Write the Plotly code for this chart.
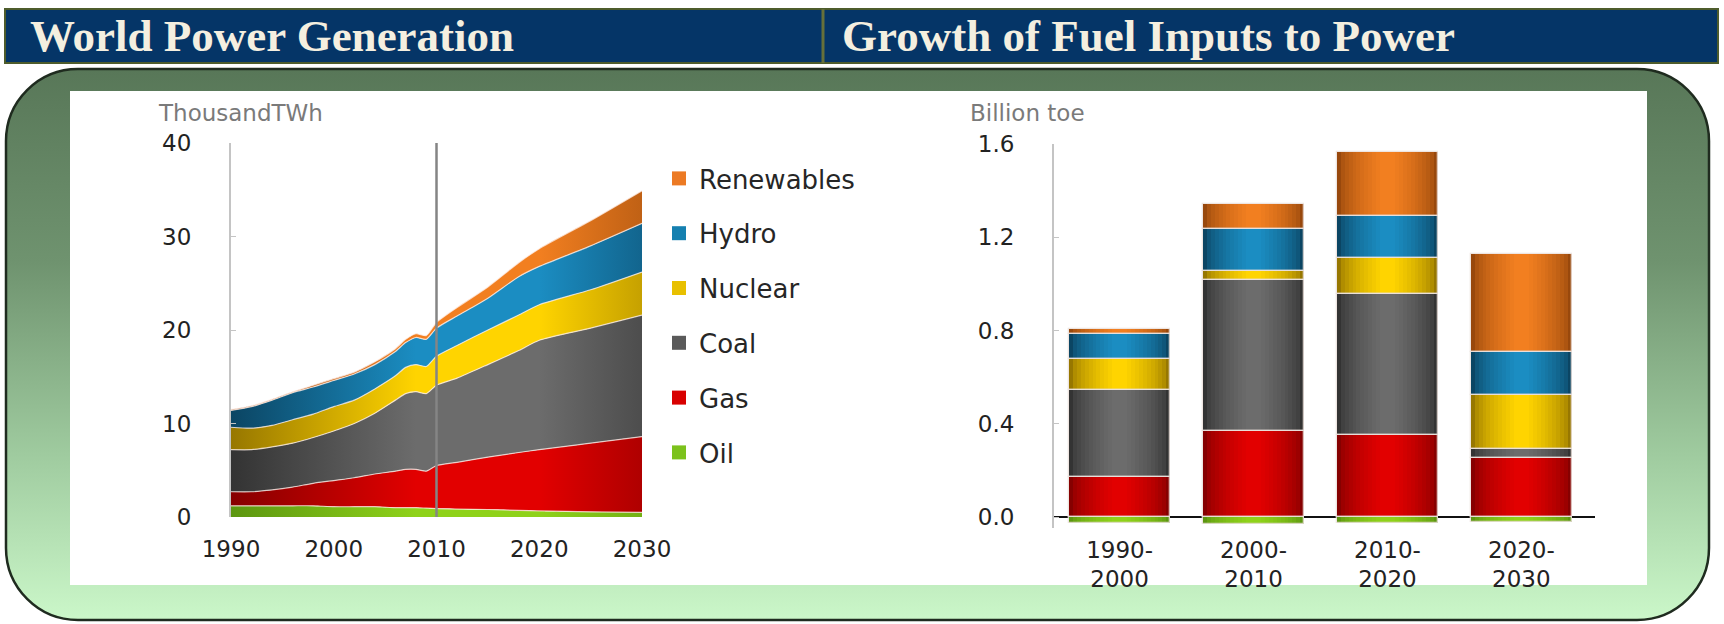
import base64
import plotly.graph_objects as go

# ---------------- DATA ----------------
years = [1990, 1992, 1994, 1996, 1998, 2000, 2002, 2004, 2006, 2007, 2008, 2009,
         2010, 2012, 2015, 2018, 2020, 2025, 2030]
oil = [1.2, 1.2, 1.2, 1.2, 1.2, 1.1, 1.1, 1.1, 1.0, 1.0, 1.0, 0.95,
       0.9, 0.85, 0.8, 0.7, 0.65, 0.55, 0.5]
gas = [1.5, 1.5, 1.7, 2.0, 2.4, 2.8, 3.1, 3.5, 3.9, 4.1, 4.1, 3.95,
       4.6, 5.0, 5.6, 6.2, 6.55, 7.35, 8.1]
coal = [4.5, 4.5, 4.6, 4.7, 4.9, 5.3, 5.8, 6.5, 7.6, 8.1, 8.3, 8.3,
        8.6, 9.0, 9.9, 10.9, 11.7, 12.3, 13.0]
nuclear = [2.4, 2.3, 2.3, 2.5, 2.5, 2.6, 2.5, 2.6, 2.6, 2.8, 2.9, 2.9,
           3.1, 3.5, 3.7, 3.8, 3.8, 4.1, 4.6]
hydro = [1.8, 2.3, 2.7, 2.9, 2.9, 2.8, 2.8, 2.6, 2.6, 2.65, 2.9, 2.9,
         3.0, 3.15, 3.4, 4.1, 4.1, 4.7, 5.2]
renewables = [0.1, 0.1, 0.1, 0.1, 0.2, 0.2, 0.2, 0.3, 0.3, 0.35, 0.4, 0.4,
              0.6, 0.9, 1.2, 1.5, 1.9, 2.7, 3.5]
projection_start = 2010
left_yticks = [0, 10, 20, 30, 40]
left_xticks = [1990, 2000, 2010, 2020, 2030]

periods = ["1990-<br>2000", "2000-<br>2010", "2010-<br>2020", "2020-<br>2030"]
oil_g = [-0.025, -0.03, -0.025, -0.02]
gas_g = [0.17, 0.37, 0.35, 0.253]
coal_g = [0.375, 0.646, 0.607, 0.04]
nuclear_g = [0.133, 0.041, 0.155, 0.229]
hydro_g = [0.107, 0.18, 0.179, 0.186]
renewables_g = [0.021, 0.104, 0.273, 0.419]
right_yticks = [0.0, 0.4, 0.8, 1.2, 1.6]

series_names = ["Oil", "Gas", "Coal", "Nuclear", "Hydro", "Renewables"]

# ---------------- STYLE ----------------
W, H = 1724, 624
def px(x):
    return x / W
def py(y):
    return 1 - y / H

bright = {"Oil": "#8fd21a", "Gas": "#e20000", "Coal": "#6c6c6c",
          "Nuclear": "#ffd400", "Hydro": "#1b8dc2", "Renewables": "#f27f20"}
dark = {"Oil": "#5c9610", "Gas": "#860000", "Coal": "#333333",
        "Nuclear": "#977700", "Hydro": "#0b4563", "Renewables": "#98480c"}
legend_col = {"Oil": "#7cc21c", "Gas": "#d80000", "Coal": "#5a5a5a",
              "Nuclear": "#e8c000", "Hydro": "#1580b0", "Renewables": "#ec7a24"}

def hex2rgb(h):
    h = h.lstrip("#")
    return tuple(int(h[i:i + 2], 16) for i in (0, 2, 4))

def mix(c1, c2, t):
    a, b = hex2rgb(c1), hex2rgb(c2)
    return "rgb(%d,%d,%d)" % tuple(round(a[i] + (b[i] - a[i]) * t) for i in range(3))

TICKFONT = dict(family="DejaVu Sans", size=23, color="#222222")

fig = go.Figure()

# ---------------- LEFT: stacked area ----------------
left_data = {"Oil": oil, "Gas": gas, "Coal": coal, "Nuclear": nuclear,
             "Hydro": hydro, "Renewables": renewables}
for name in series_names:
    d, b = dark[name], bright[name]
    fig.add_trace(go.Scatter(
        x=years, y=left_data[name], stackgroup="one", mode="lines",
        line=dict(color="rgba(255,240,235,0.75)", width=1.2, shape="spline", smoothing=0.6),
        fillcolor=b,
        fillgradient=dict(type="horizontal",
                          colorscale=[[0, d], [0.45, b], [0.75, b], [1, mix(d, b, 0.45)]]),
        name=name, showlegend=False, hoverinfo="x+y+name",
        xaxis="x", yaxis="y"))

# legend entries (top to bottom: Renewables ... Oil)
for name in reversed(series_names):
    fig.add_trace(go.Scatter(
        x=[None], y=[None], mode="markers", name=name,
        marker=dict(symbol="square", size=14, color=legend_col[name]),
        legendgroup=name, showlegend=True, xaxis="x", yaxis="y"))

# ---------------- RIGHT: stacked bars with cylinder shading ----------------
right_data = {"Oil": oil_g, "Gas": gas_g, "Coal": coal_g, "Nuclear": nuclear_g,
              "Hydro": hydro_g, "Renewables": renewables_g}
bar_w = 0.755
n_layers = 12
layers = []
for k in range(n_layers):
    f = 1.0 - k * (0.85 / (n_layers - 1))
    t = (k / (n_layers - 1)) ** 0.6
    layers.append((f, t))

cum = [0.0] * len(periods)
bases = {}
for name in series_names:
    vals = right_data[name]
    if name == "Oil":
        bases[name] = [0.0] * len(periods)
    else:
        bases[name] = list(cum)
        cum = [c + v for c, v in zip(cum, vals)]

for name in series_names:
    for f, t in layers:
        fig.add_trace(go.Bar(
            x=periods, y=right_data[name], base=bases[name],
            width=[bar_w * f] * len(periods),
            marker=dict(color=mix(dark[name], bright[name], t), line=dict(width=0)),
            showlegend=False, hoverinfo="skip", xaxis="x2", yaxis="y2"))
# outline layer (thin light separators)
for name in series_names:
    fig.add_trace(go.Bar(
        x=periods, y=right_data[name], base=bases[name],
        width=[bar_w] * len(periods), name=name,
        marker=dict(color="rgba(0,0,0,0)", line=dict(color="rgba(235,225,220,0.85)", width=1.3)),
        showlegend=False, xaxis="x2", yaxis="y2"))

# ---------------- LAYOUT ----------------
svg = ("<svg xmlns='http://www.w3.org/2000/svg' width='1724' height='624' viewBox='0 0 1724 624' "
       "preserveAspectRatio='none'>"
       "<defs><linearGradient id='g' x1='0' y1='0' x2='0' y2='1'>"
       "<stop offset='0' stop-color='#587758'/><stop offset='0.35' stop-color='#6f936f'/>"
       "<stop offset='0.7' stop-color='#9fcb9f'/><stop offset='1' stop-color='#cbf7c9'/>"
       "</linearGradient></defs>"
       "<rect x='6' y='69' width='1703' height='551' rx='72' ry='72' fill='url(#g)' "
       "stroke='#1f2b1f' stroke-width='2.5'/></svg>")
svg_uri = "data:image/svg+xml;base64," + base64.b64encode(svg.encode()).decode()

shapes = [
    dict(type="rect", xref="paper", yref="paper", x0=px(5), x1=px(1718), y0=py(63), y1=py(9),
         fillcolor="#053567", line=dict(color="#4e5c2c", width=2), layer="below"),
    dict(type="line", xref="paper", yref="paper", x0=px(823), x1=px(823), y0=py(63), y1=py(9),
         line=dict(color="#66703a", width=3), layer="below"),
    dict(type="rect", xref="paper", yref="paper", x0=px(70), x1=px(1647), y0=py(585), y1=py(91),
         fillcolor="white", line=dict(width=0), layer="below"),
    dict(type="line", xref="x", yref="y", x0=projection_start, x1=projection_start,
         y0=left_yticks[0], y1=left_yticks[-1], line=dict(color="#858585", width=2.5)),
]

TITLEFONT = dict(family="Liberation Serif", size=45, color="#f4efe0", weight="bold")
annotations = [
    dict(text="World Power Generation", xref="paper", yref="paper", x=px(28), y=py(36),
         xanchor="left", yanchor="middle", showarrow=False, font=TITLEFONT),
    dict(text="Growth of Fuel Inputs to Power", xref="paper", yref="paper", x=px(840), y=py(36),
         xanchor="left", yanchor="middle", showarrow=False, font=TITLEFONT),
    dict(text="ThousandTWh", xref="paper", yref="paper", x=px(156), y=py(113),
         xanchor="left", yanchor="middle", showarrow=False,
         font=dict(family="DejaVu Sans", size=23, color="#7a7a7a")),
    dict(text="Billion toe", xref="paper", yref="paper", x=px(968), y=py(113),
         xanchor="left", yanchor="middle", showarrow=False,
         font=dict(family="DejaVu Sans", size=23, color="#7a7a7a")),
]

fig.update_layout(
    width=W, height=H, autosize=False,
    margin=dict(l=0, r=0, t=0, b=0, pad=0, autoexpand=False),
    paper_bgcolor="white", plot_bgcolor="rgba(0,0,0,0)",
    barmode="overlay", bargap=0,
    showlegend=True,
    legend=dict(x=px(659), y=py(155), xanchor="left", yanchor="top",
                font=dict(family="DejaVu Sans", size=26, color="#262626"),
                bgcolor="rgba(0,0,0,0)", tracegroupgap=18, itemwidth=30,
                traceorder="grouped"),
    images=[dict(source=svg_uri, xref="paper", yref="paper", x=0, y=1, sizex=1, sizey=1,
                 xanchor="left", yanchor="top", sizing="stretch", layer="below")],
    shapes=shapes,
    annotations=annotations,
    xaxis=dict(domain=[px(231), px(642)], range=[1990, 2030], tickvals=left_xticks,
               showgrid=False, zeroline=False, showline=False, ticks="",
               tickfont=TICKFONT, ticklabelstandoff=16, anchor="y", automargin=False),
    yaxis=dict(domain=[py(517), py(143)], range=[0, 40], tickvals=left_yticks,
               showgrid=False, zeroline=False, showline=True, linecolor="#c4c4c4", linewidth=2,
               ticks="inside", ticklen=5, tickcolor="#c4c4c4",
               tickfont=TICKFONT, ticklabelstandoff=33, anchor="x", automargin=False),
    xaxis2=dict(domain=[px(1054), px(1595)], range=[-0.49, 3.55], type="category",
                showgrid=False, zeroline=False, showline=False, ticks="",
                tickfont=TICKFONT, ticklabelstandoff=6, anchor="y2", automargin=False),
    yaxis2=dict(domain=[py(527.5), py(144)], range=[-0.045, 1.6], tickvals=right_yticks,
                tickformat=".1f", showgrid=False,
                zeroline=True, zerolinecolor="#111111", zerolinewidth=2,
                showline=True, linecolor="#c4c4c4", linewidth=2,
                ticks="inside", ticklen=5, tickcolor="#c4c4c4",
                tickfont=TICKFONT, ticklabelstandoff=33, anchor="x2", automargin=False),
)

fig.write_html("out.html", config={"displayModeBar": False},
               post_script="document.body.style.margin='0';document.body.style.overflow='hidden';")
